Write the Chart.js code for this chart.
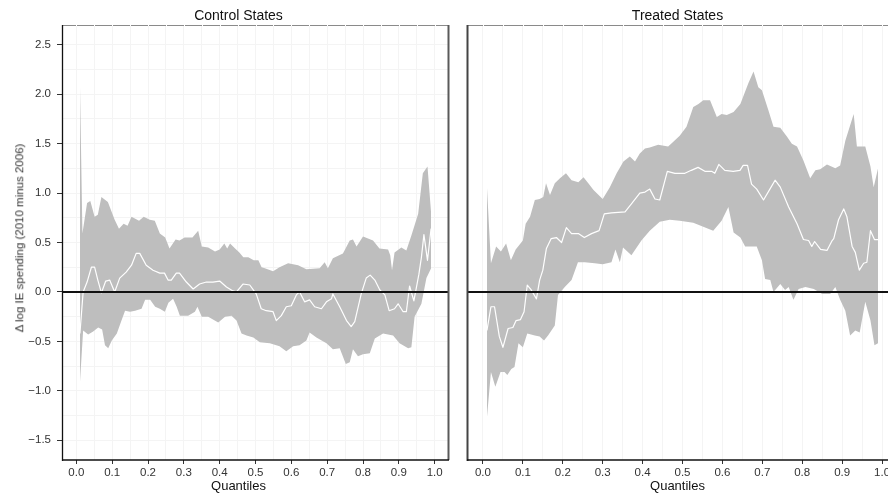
<!DOCTYPE html>
<html>
<head>
<meta charset="utf-8">
<script src="https://cdn.jsdelivr.net/npm/chart.js@4.4.1/dist/chart.umd.min.js"></script>
<style>
  html, body { margin: 0; padding: 0; background: #fff; }
  #wrap { position: relative; width: 888px; height: 493px; overflow: hidden; background: #fff;
          font-family: 'Liberation Sans', Arial, sans-serif; color: #111; }
  canvas { position: absolute; top: 0; }
  #c1 { left: 0; }
  #c2 { left: 456px; }
  .lbl { position: absolute; white-space: nowrap; line-height: 1; transform: translateX(-50%); }
  .strip { top: 8px; font-size: 14px; }
  .xt { top: 479px; font-size: 13px; }
  #ytitle { position: absolute; left: 20px; top: 238px; font-size: 11.5px; font-weight: normal; line-height: 1;
            white-space: nowrap; transform: translate(-50%, -50%) rotate(-90deg); color: #333; }
</style>
</head>
<body>
<div id="wrap">
  <canvas id="c1" width="455" height="493"></canvas>
  <canvas id="c2" width="444" height="493"></canvas>
  <div class="lbl strip" style="left:238.5px">Control States</div>
  <div class="lbl strip" style="left:677.5px">Treated States</div>
  <div class="lbl xt" style="left:238.5px">Quantiles</div>
  <div class="lbl xt" style="left:677.5px">Quantiles</div>
  <div id="ytitle">Δ log IE spending (2010 minus 2006)</div>
</div>
<script>
// [quantile, value]
const ctrlUpper = [[0.01,2.12],[0.017,0.59],[0.03,0.90],[0.039,0.92],[0.051,0.76],[0.06,0.78],[0.07,0.96],[0.088,0.91],
  [0.107,0.73],[0.119,0.64],[0.132,0.69],[0.143,0.67],[0.154,0.76],[0.175,0.72],[0.188,0.76],[0.205,0.73],[0.219,0.72],
  [0.233,0.59],[0.248,0.55],[0.26,0.44],[0.277,0.53],[0.288,0.52],[0.302,0.55],[0.324,0.55],[0.34,0.62],[0.35,0.46],
  [0.368,0.45],[0.387,0.41],[0.40,0.43],[0.413,0.49],[0.421,0.44],[0.429,0.49],[0.443,0.44],[0.455,0.40],[0.466,0.35],
  [0.48,0.35],[0.495,0.32],[0.508,0.32],[0.517,0.25],[0.526,0.24],[0.549,0.21],[0.567,0.25],[0.591,0.29],[0.619,0.27],
  [0.642,0.23],[0.679,0.24],[0.693,0.30],[0.702,0.24],[0.716,0.34],[0.744,0.39],[0.763,0.52],[0.772,0.53],[0.782,0.46],
  [0.80,0.56],[0.828,0.52],[0.846,0.44],[0.87,0.43],[0.876,0.37],[0.881,0.22],[0.888,0.40],[0.907,0.45],[0.921,0.42],
  [0.935,0.57],[0.954,0.79],[0.967,1.20],[0.98,1.27],[0.99,0.80]];

const ctrlLower = [[0.01,-0.92],[0.019,-0.39],[0.033,-0.43],[0.047,-0.40],[0.061,-0.36],[0.072,-0.38],[0.08,-0.54],
  [0.089,-0.57],[0.099,-0.49],[0.113,-0.42],[0.126,-0.29],[0.136,-0.19],[0.15,-0.20],[0.164,-0.19],[0.182,-0.17],
  [0.192,-0.08],[0.206,-0.08],[0.22,-0.15],[0.233,-0.17],[0.247,-0.20],[0.257,-0.11],[0.27,-0.07],[0.28,-0.15],
  [0.289,-0.24],[0.312,-0.24],[0.331,-0.20],[0.338,-0.15],[0.35,-0.25],[0.368,-0.25],[0.396,-0.31],[0.415,-0.25],
  [0.433,-0.24],[0.447,-0.29],[0.461,-0.42],[0.475,-0.44],[0.494,-0.46],[0.512,-0.51],[0.54,-0.52],[0.567,-0.55],
  [0.586,-0.60],[0.605,-0.55],[0.623,-0.54],[0.642,-0.49],[0.651,-0.41],[0.67,-0.46],[0.698,-0.52],[0.716,-0.58],
  [0.735,-0.57],[0.752,-0.73],[0.763,-0.71],[0.772,-0.58],[0.786,-0.65],[0.80,-0.63],[0.819,-0.62],[0.833,-0.47],
  [0.856,-0.42],[0.884,-0.44],[0.902,-0.52],[0.926,-0.57],[0.935,-0.56],[0.944,-0.25],[0.963,-0.12],[0.977,0.14],
  [0.99,0.24]];

const ctrlEst = [[0.01,-0.42],[0.019,0.0],[0.03,0.10],[0.042,0.25],[0.051,0.25],[0.06,0.12],[0.07,-0.01],[0.082,0.11],
  [0.093,0.12],[0.107,0.0],[0.121,0.14],[0.139,0.20],[0.154,0.27],[0.167,0.39],[0.177,0.39],[0.195,0.27],[0.214,0.22],
  [0.233,0.19],[0.246,0.19],[0.256,0.12],[0.265,0.12],[0.279,0.19],[0.288,0.19],[0.307,0.10],[0.326,0.03],[0.344,0.08],
  [0.363,0.10],[0.381,0.10],[0.40,0.11],[0.419,0.05],[0.437,0.01],[0.447,0.0],[0.465,0.08],[0.484,0.07],[0.502,-0.02],
  [0.516,-0.17],[0.53,-0.19],[0.549,-0.20],[0.558,-0.29],[0.572,-0.24],[0.586,-0.15],[0.60,-0.14],[0.614,-0.03],
  [0.623,0.0],[0.637,-0.10],[0.651,-0.08],[0.665,-0.15],[0.684,-0.17],[0.698,-0.10],[0.712,-0.07],[0.716,-0.02],
  [0.735,-0.15],[0.754,-0.29],[0.767,-0.35],[0.777,-0.30],[0.795,-0.02],[0.809,0.14],[0.82,0.17],[0.833,0.12],
  [0.847,0.02],[0.861,-0.03],[0.873,-0.19],[0.888,-0.17],[0.898,-0.12],[0.912,-0.20],[0.921,-0.20],[0.93,0.06],
  [0.942,-0.09],[0.956,0.18],[0.963,0.35],[0.97,0.58],[0.98,0.32],[0.99,0.64]];

const treatUpper = [[0.01,1.06],[0.02,0.29],[0.033,0.46],[0.045,0.41],[0.058,0.49],[0.07,0.32],[0.082,0.43],[0.10,0.52],
  [0.107,0.69],[0.118,0.76],[0.13,0.93],[0.142,0.94],[0.151,0.96],[0.158,1.10],[0.168,0.98],[0.18,1.10],[0.193,1.15],
  [0.208,1.20],[0.222,1.13],[0.239,1.11],[0.252,1.16],[0.264,1.10],[0.277,1.03],[0.30,0.94],[0.318,1.06],[0.335,1.20],
  [0.352,1.32],[0.368,1.37],[0.381,1.32],[0.393,1.40],[0.406,1.45],[0.418,1.46],[0.439,1.49],[0.464,1.47],[0.477,1.52],
  [0.493,1.58],[0.51,1.67],[0.527,1.87],[0.54,1.90],[0.552,1.94],[0.569,1.94],[0.586,1.77],[0.598,1.80],[0.611,1.79],
  [0.628,1.82],[0.645,1.90],[0.665,2.11],[0.678,2.23],[0.69,2.07],[0.699,2.04],[0.715,1.84],[0.728,1.67],[0.745,1.66],
  [0.762,1.57],[0.774,1.50],[0.787,1.47],[0.803,1.33],[0.82,1.15],[0.833,1.23],[0.845,1.24],[0.862,1.29],[0.883,1.25],
  [0.895,1.28],[0.908,1.53],[0.929,1.80],[0.937,1.47],[0.958,1.47],[0.971,1.27],[0.979,1.06],[0.99,1.25]];

const treatLower = [[0.01,-1.27],[0.02,-0.81],[0.031,-0.96],[0.044,-0.81],[0.054,-0.81],[0.061,-0.84],[0.071,-0.78],
  [0.079,-0.76],[0.089,-0.52],[0.10,-0.56],[0.111,-0.42],[0.13,-0.44],[0.142,-0.45],[0.153,-0.49],[0.163,-0.44],
  [0.18,-0.34],[0.188,-0.03],[0.205,0.05],[0.222,0.12],[0.238,0.30],[0.255,0.30],[0.28,0.29],[0.30,0.28],[0.322,0.30],
  [0.332,0.43],[0.343,0.30],[0.351,0.45],[0.372,0.37],[0.397,0.52],[0.418,0.62],[0.443,0.71],[0.468,0.73],[0.493,0.72],
  [0.527,0.70],[0.552,0.66],[0.577,0.62],[0.598,0.72],[0.615,0.86],[0.628,0.60],[0.645,0.55],[0.657,0.46],[0.686,0.46],
  [0.699,0.32],[0.707,0.13],[0.72,0.12],[0.728,0.0],[0.745,0.08],[0.757,0.02],[0.766,0.05],[0.778,-0.08],[0.791,0.03],
  [0.808,0.05],[0.829,0.03],[0.85,-0.02],[0.87,-0.02],[0.883,0.05],[0.895,-0.08],[0.908,-0.19],[0.92,-0.44],
  [0.933,-0.39],[0.944,-0.41],[0.958,-0.10],[0.971,-0.29],[0.981,-0.54],[0.99,-0.52]];

const treatEst = [[0.01,-0.39],[0.02,-0.15],[0.029,-0.15],[0.041,-0.45],[0.05,-0.56],[0.063,-0.37],[0.075,-0.36],
  [0.083,-0.29],[0.094,-0.28],[0.103,-0.20],[0.111,0.07],[0.121,0.02],[0.134,-0.07],[0.142,0.12],[0.15,0.22],
  [0.159,0.44],[0.171,0.54],[0.184,0.55],[0.197,0.50],[0.209,0.65],[0.222,0.59],[0.239,0.59],[0.254,0.55],[0.272,0.59],
  [0.291,0.62],[0.304,0.79],[0.322,0.80],[0.356,0.81],[0.372,0.89],[0.393,1.00],[0.406,1.01],[0.418,1.04],[0.431,0.94],
  [0.443,0.93],[0.462,1.22],[0.481,1.20],[0.506,1.20],[0.522,1.23],[0.539,1.26],[0.556,1.22],[0.573,1.22],[0.581,1.20],
  [0.591,1.29],[0.606,1.23],[0.627,1.22],[0.644,1.23],[0.652,1.28],[0.663,1.28],[0.673,1.09],[0.686,1.04],[0.703,0.93],
  [0.719,1.04],[0.732,1.13],[0.745,1.06],[0.766,0.86],[0.787,0.69],[0.803,0.53],[0.816,0.52],[0.824,0.46],[0.831,0.51],
  [0.846,0.43],[0.862,0.42],[0.875,0.52],[0.879,0.54],[0.891,0.73],[0.904,0.84],[0.912,0.76],[0.925,0.46],[0.933,0.40],
  [0.943,0.22],[0.954,0.29],[0.962,0.30],[0.971,0.62],[0.981,0.53],[0.99,0.53]];

// axes
const xGrid = [0,0.05,0.1,0.15,0.2,0.25,0.3,0.35,0.4,0.45,0.5,0.55,0.6,0.65,0.7,0.75,0.8,0.85,0.9,0.95,1.0];
const xLabels = [0,0.1,0.2,0.3,0.4,0.5,0.6,0.7,0.8,0.9,1.0];
const yGrid = [-1.5,-1.25,-1,-0.75,-0.5,-0.25,0,0.25,0.5,0.75,1,1.25,1.5,1.75,2,2.25,2.5];
const yLabels = [-1.5,-1,-0.5,0,0.5,1,1.5,2,2.5];

Chart.defaults.font.family = "'Liberation Sans', Arial, sans-serif";
Chart.defaults.font.size = 11.5;
Chart.defaults.color = '#333';

const isIn = (arr, v) => arr.some(a => Math.abs(a - v) < 1e-6);
const fmt = v => (v < 0 ? '\u2212' : '') + Math.abs(v).toFixed(1);
const pts = arr => arr.map(p => ({x: p[0], y: p[1]}));

const panelFrame = {
  id: 'panelFrame',
  afterDatasetsDraw(chart, args, o) {
    const {ctx, chartArea: a, scales: {x, y}} = chart;
    ctx.save();
    // zero line
    const y0 = Math.round(y.getPixelForValue(0));
    ctx.strokeStyle = '#111';
    ctx.lineWidth = 1.8;
    ctx.beginPath(); ctx.moveTo(a.left, y0); ctx.lineTo(a.right, y0); ctx.stroke();
    // top border with little gaps at the grid lines
    ctx.strokeStyle = '#8a8a8a';
    ctx.lineWidth = 1;
    ctx.beginPath(); ctx.moveTo(a.left, a.top + 0.5); ctx.lineTo(a.right, a.top + 0.5); ctx.stroke();
    ctx.strokeStyle = '#fff';
    xGrid.forEach(v => {
      const px = Math.round(x.getPixelForValue(v)) + 0.5;
      ctx.beginPath(); ctx.moveTo(px, a.top); ctx.lineTo(px, a.top + 1); ctx.stroke();
    });
    // right border
    if (o.right) {
      ctx.strokeStyle = o.right;
      ctx.lineWidth = 2;
      ctx.beginPath(); ctx.moveTo(a.right - 0.5, a.top); ctx.lineTo(a.right - 0.5, a.bottom); ctx.stroke();
    }
    // left border
    ctx.strokeStyle = o.left;
    ctx.lineWidth = o.leftWidth;
    ctx.beginPath(); ctx.moveTo(a.left + 0.5, a.top); ctx.lineTo(a.left + 0.5, a.bottom + 1); ctx.stroke();
    // bottom border
    ctx.strokeStyle = '#111';
    ctx.lineWidth = 1.3;
    ctx.beginPath(); ctx.moveTo(a.left, a.bottom); ctx.lineTo(a.right, a.bottom); ctx.stroke();
    ctx.restore();
  }
};

function makePanel(id, upper, lower, est, showY, pad, frame) {
  return new Chart(document.getElementById(id), {
    type: 'line',
    data: {
      datasets: [
        { data: pts(upper), order: 3, borderWidth: 0, borderColor: 'rgba(0,0,0,0)', backgroundColor: '#BEBEBE',
          fill: '+1', pointRadius: 0, tension: 0 },
        { data: pts(lower), order: 2, borderWidth: 0, borderColor: 'rgba(0,0,0,0)', fill: false, pointRadius: 0, tension: 0 },
        { data: pts(est), order: 1, borderWidth: 1.2, borderColor: '#ffffff', fill: false, pointRadius: 0, tension: 0,
          borderJoinStyle: 'round' }
      ]
    },
    options: {
      responsive: false,
      animation: false,
      events: [],
      layout: { padding: pad },
      plugins: { legend: { display: false }, tooltip: { enabled: false }, panelFrame: frame },
      scales: {
        x: {
          type: 'linear', min: -0.04, max: 1.04,
          afterBuildTicks: s => { s.ticks = xGrid.map(v => ({value: v})); },
          afterFit: s => { s.height = 33; s.paddingLeft = 0; s.paddingRight = 0; },
          ticks: { autoSkip: false, maxRotation: 0, padding: 2,
                   callback: v => isIn(xLabels, v) ? v.toFixed(1) : '' },
          grid: { color: '#F4F4F4', lineWidth: 1, tickLength: 4,
                  tickColor: c => (c.tick && isIn(xLabels, c.tick.value)) ? '#333' : 'rgba(0,0,0,0)' },
          border: { display: false }
        },
        y: {
          type: 'linear', min: -1.70, max: 2.70, display: showY,
          afterBuildTicks: s => { s.ticks = yGrid.map(v => ({value: v})); },
          afterFit: s => { s.width = showY ? 62 : 0; s.paddingTop = 0; s.paddingBottom = 0; },
          ticks: { autoSkip: false, padding: 6,
                   callback: v => isIn(yLabels, v) ? fmt(v) : '' },
          grid: { color: '#F4F4F4', lineWidth: 1, tickLength: 5,
                  tickColor: c => (c.tick && isIn(yLabels, c.tick.value)) ? '#333' : 'rgba(0,0,0,0)' },
          border: { display: false }
        }
      }
    },
    plugins: [panelFrame]
  });
}

makePanel('c1', ctrlUpper, ctrlLower, ctrlEst, true,
  { left: 0, top: 25, right: 6, bottom: 0 },
  { left: '#111', leftWidth: 1.3, right: '#5a5a5a' });
makePanel('c2', treatUpper, treatLower, treatEst, false,
  { left: 11, top: 25, right: 2, bottom: 0 },
  { left: '#444', leftWidth: 2, right: null });
</script>
</body>
</html>
